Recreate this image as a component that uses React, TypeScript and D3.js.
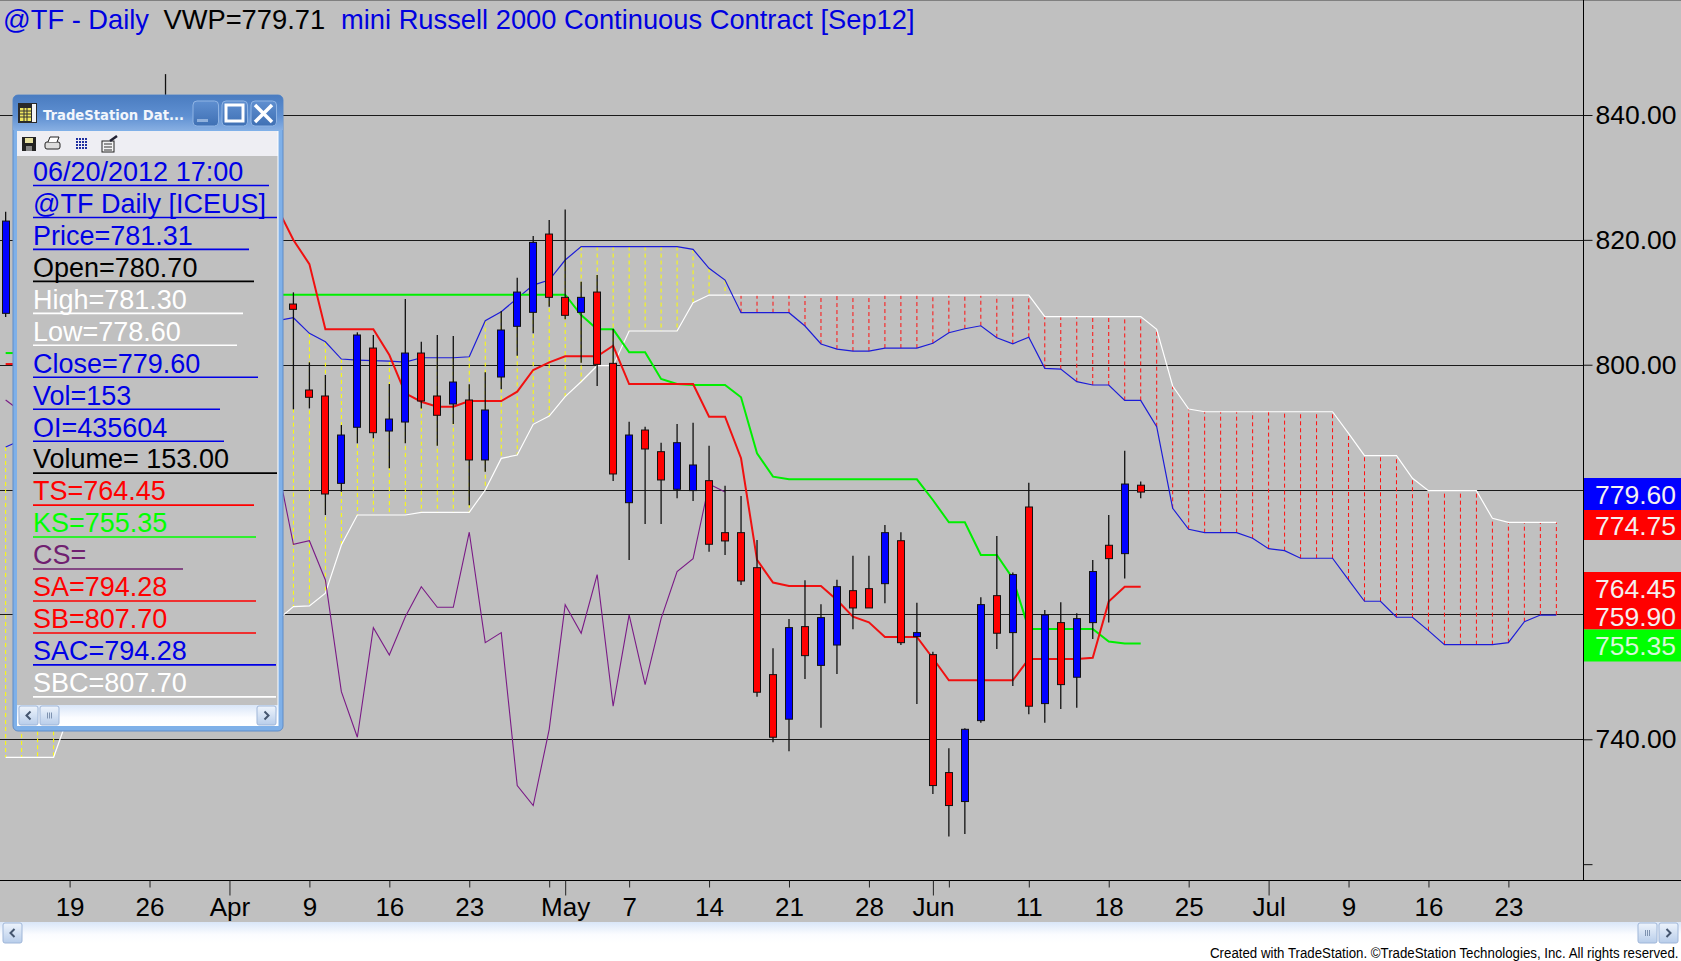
import { axisBottom, axisRight, line, scaleLinear, select } from 'd3'
import { useEffect, useRef } from 'react'

const WIDTH = 1681
const HEIGHT = 961
const FONT = '"Liberation Sans", Arial, sans-serif'

// every weekday counts as one slot on the time axis, slot 0 is Mar 13 2012
const barDays = [0, 10, ...Array.from({ length: 54 }, (_, i) => i + 18)]
const opens = [808.23, 830, 809.72, 795.95, 794.99, 781.0, 789.98, 802.67, 789.38, 790.82, 801.87, 794.99, 793.71, 794.35, 784.74, 798.03, 806.15, 808.39, 820.93, 810.79, 808.39, 811.64, 800.22, 777.9, 789.54, 786.07, 780.05, 779.84, 781.43, 773.1, 773.1, 767.49, 750.36, 743.22, 758.05, 751.84, 755.1, 763.81, 764.13, 764.93, 771.81, 756.45, 753.56, 734.67, 730.03, 742.99, 763.01, 757.09, 777.21, 745.72, 758.69, 749.94, 758.69, 771.08, 769.74, 780.7]
const highs = [824.5, 846.55, 811.59, 800.38, 798.35, 790.34, 805.19, 804.76, 796.91, 810.52, 803.68, 804.76, 804.6, 796.86, 798.78, 808.6, 813.93, 820.61, 823.17, 824.88, 813.29, 814.36, 805.72, 790.87, 790.07, 787.51, 790.5, 790.71, 787.03, 780.62, 778.97, 771.93, 754.59, 759.28, 765.47, 761.63, 765.57, 769.42, 769.42, 774.33, 773.17, 761.89, 754.04, 738.56, 741.76, 762.75, 772.57, 766.7, 781.1, 760.72, 761.95, 760.2, 768.73, 775.93, 786.23, 781.3]
const lows = [807.64, 825, 792.85, 793.0, 775.93, 779.66, 787.41, 788.21, 783.41, 787.41, 793.0, 787.03, 790.5, 777.49, 782.87, 796.06, 801.44, 805.03, 809.29, 807.27, 800.32, 796.59, 781.38, 768.73, 774.49, 774.49, 778.6, 778.17, 770.05, 769.53, 764.72, 746.83, 739.53, 738.1, 749.67, 741.87, 750.47, 757.63, 761.04, 761.79, 755.1, 745.67, 731.25, 724.42, 724.85, 742.67, 754.46, 748.55, 744.02, 742.67, 744.86, 745.07, 756.08, 758.69, 765.75, 778.6]
const closes = [823.01, 836, 808.87, 794.78, 779.29, 788.74, 804.76, 789.11, 791.3, 801.87, 794.19, 791.9, 797.23, 784.74, 792.75, 805.56, 811.64, 819.6, 810.79, 807.91, 810.79, 800.06, 782.5, 788.74, 786.5, 781.54, 787.51, 783.94, 771.24, 771.77, 765.36, 747.54, 740.33, 757.89, 753.4, 759.49, 764.45, 761.04, 761.04, 773.1, 755.48, 757.09, 732.59, 729.39, 741.6, 761.57, 756.99, 766.38, 745.3, 759.92, 748.76, 759.33, 766.87, 768.94, 780.89, 779.6]

// indicator values that show left of the data window, slots 0..
const tenkanLeft = [800.11, 800.11]
const kijunLeft = [801.87, 801.87]
const chikouLeft = [794.35, 792.43]
const spanALeft = [786.82, 787.94, 789.5, 789.5, 789.5]
const spanBLeft = [737.12, 737.12, 737.12, 737.12, 744.33]

// the same indicators right of the window, slots 17..
const FIRST_RIGHT = 17
const tenkan = [825.09, 819.97, 816.12, 805.67, 805.67, 805.67, 805.67, 801.55, 795.42, 794.07, 793.27, 793.27, 794.19, 794.19, 794.19, 795.68, 799.15, 800.38, 801.35, 801.35, 801.35, 803.04, 796.91, 796.91, 796.91, 796.91, 796.91, 791.67, 791.67, 785.02, 768.73, 765.1, 764.56, 764.56, 764.56, 762.32, 759.64, 758.74, 756.39, 756.39, 756.39, 752.98, 749.46, 749.46, 749.46, 749.46, 749.46, 752.87, 752.87, 752.87, 752.87, 753.07, 762.05, 764.45, 764.45]
const kijun = [811.21, 811.21, 811.21, 811.21, 811.21, 811.21, 811.21, 811.21, 811.21, 811.21, 811.21, 811.21, 811.21, 811.21, 811.21, 811.21, 811.21, 811.21, 811.21, 807.96, 805.67, 805.67, 801.99, 801.99, 797.71, 796.91, 796.75, 796.75, 796.75, 794.78, 785.81, 782.07, 781.65, 781.65, 781.65, 781.65, 781.65, 781.65, 781.65, 781.65, 781.65, 778.33, 774.76, 774.76, 769.53, 769.53, 765.75, 757.68, 757.68, 757.68, 757.68, 757.68, 755.65, 755.35, 755.35]
const chikou = [783.94, 771.24, 771.81, 765.52, 747.63, 740.33, 757.89, 753.51, 759.64, 764.45, 761.15, 761.15, 773.17, 755.48, 757.09, 732.59, 729.39, 741.6, 761.57, 756.99, 766.38, 745.3, 759.92, 748.76, 759.33, 766.87, 768.94, 780.89, 779.6]
const spanA = [807.05, 807.53, 805.03, 803.68, 800.91, 800.75, 800.64, 800.59, 800.43, 801.12, 801.12, 801.12, 801.28, 807.05, 808.49, 810.63, 812.76, 813.56, 816.77, 818.93, 818.93, 818.93, 818.93, 818.93, 818.93, 818.93, 818.48, 815.44, 813.56, 808.33, 808.33, 808.33, 808.33, 806.2, 803.32, 802.51, 802.19, 802.19, 802.67, 802.67, 802.67, 803.43, 805.13, 805.76, 806.24, 804.32, 803.36, 804.39, 799.42, 799.31, 797.28, 796.75, 796.75, 794.28, 794.28, 790.07, 777.0, 773.64, 773.1, 773.1, 773.1, 772.2, 770.54, 770.22, 769.0, 769.0, 769.0, 765.52, 762.11, 762.11, 759.55, 759.55, 757.41, 755.16, 755.16, 755.16, 755.16, 755.48, 758.84, 759.9, 759.9]
const spanB = [759.12, 761.25, 761.36, 763.4, 771.13, 775.93, 775.93, 775.93, 775.93, 776.36, 776.36, 776.36, 776.36, 779.93, 785.0, 785.54, 790.45, 791.78, 794.88, 797.28, 799.84, 799.84, 805.4, 805.4, 805.4, 805.4, 809.93, 811.16, 811.16, 811.16, 811.16, 811.16, 811.16, 811.16, 811.16, 811.16, 811.16, 811.16, 811.16, 811.16, 811.16, 811.16, 811.16, 811.16, 811.16, 811.16, 811.16, 811.16, 807.7, 807.7, 807.7, 807.7, 807.7, 807.7, 807.7, 805.67, 796.59, 792.9, 792.47, 792.47, 792.47, 792.47, 792.47, 792.47, 792.47, 792.47, 792.47, 789.0, 785.43, 785.43, 785.43, 781.81, 779.82, 779.82, 779.82, 779.82, 775.4, 774.75, 774.75, 774.75, 774.75]

const priceTicks = [840, 820, 800, 780, 760, 740, 720]
const labeledPrices = [840, 820, 800, 740] // 780 and 760 sit under the last value boxes
const gridPrices = [840, 820, 800, 780, 760, 740]
const lastLabels = ['779.60', '774.75', '764.45', '759.90', '755.35']

const dayTicks = [4, 9, 14, 19, 24, 29, 34, 35, 39, 44, 49, 54, 58, 59, 64, 69, 74, 79, 84, 89, 94]
const dayLabels = ['19', '26', 'Apr', '9', '16', '23', '', 'May', '7', '14', '21', '28', 'Jun', '', '11', '18', '25', 'Jul', '9', '16', '23']
const monthDays = [14, 35, 58, 79]

const rowLabels = ['06/20/2012 17:00', '@TF Daily [ICEUS]', 'Price=781.31', 'Open=780.70', 'High=781.30', 'Low=778.60', 'Close=779.60', 'Vol=153', 'OI=435604', 'Volume= 153.00', 'TS=764.45', 'KS=755.35', 'CS=', 'SA=794.28', 'SB=807.70', 'SAC=794.28', 'SBC=807.70']
const rowColors = ['#0000e6', '#0000e6', '#0000e6', '#000', '#fff', '#fff', '#0000e6', '#0000e6', '#0000e6', '#000', '#f00', '#0f0', '#702070', '#f00', '#f00', '#0000e6', '#fff']
const rowEnds = [269, 277, 249, 254, 243, 237, 258, 220, 224, 277, 254, 256, 183, 256, 256, 276, 276]

const series = (first: number, values: number[]) => values.map((v, i) => ({ day: first + i, v }))

export default function App() {
    const svgRef = useRef(null)

    useEffect(() => {
        const svg = select(svgRef.current)
        svg.selectAll('*').remove()

        const x = scaleLinear().domain([0, 94]).range([5.65, 1508.4])
        const y = scaleLinear().domain([740, 840]).range([739.3, 115])
        const path = line<any>().x(d => x(d.day)).y(d => y(d.v))

        const defs = svg.append('defs')
        const grad = (id, stops) => {
            const g = defs.append('linearGradient').attr('id', id).attr('x1', 0).attr('x2', 0).attr('y1', 0).attr('y2', 1)
            stops.forEach(([o, c]) => g.append('stop').attr('offset', o).attr('stop-color', c))
        }
        grad('titleBar', [[0, '#4a7cc0'], [0.6, '#5f90d2'], [1, '#86aee2']])
        grad('btn', [[0, '#5f8fd0'], [1, '#3f70b4']])
        grad('scroll', [[0, '#d9e6f8'], [0.6, '#fbfcff'], [1, '#fff']])
        grad('scrollBtn', [[0, '#eef4fc'], [1, '#b8cdea']])

        svg.append('rect').attr('width', WIDTH).attr('height', HEIGHT).attr('fill', '#fff')
        svg.append('rect').attr('width', WIDTH).attr('height', 922).attr('fill', '#c0c0c0')
        svg.append('line').attr('x1', 0).attr('x2', WIDTH).attr('y1', 0.5).attr('y2', 0.5).attr('stroke', '#808080')

        // grid
        svg.append('g').selectAll('line').data(gridPrices).join('line')
            .attr('x1', 0).attr('x2', 1583)
            .attr('y1', d => Math.round(y(d)) + 0.5).attr('y2', d => Math.round(y(d)) + 0.5)
            .attr('stroke', '#1a1a1a').attr('stroke-width', 1)

        // cloud hatching, yellow while span A is on top, red otherwise
        const cloud = [
            ...spanALeft.map((a, i) => ({ day: i, a, b: spanBLeft[i] })),
            ...spanA.map((a, i) => ({ day: FIRST_RIGHT + i, a, b: spanB[i] }))
        ]
        svg.append('g').selectAll('line').data(cloud).join('line')
            .attr('x1', d => x(d.day)).attr('x2', d => x(d.day))
            .attr('y1', d => y(d.a)).attr('y2', d => y(d.b))
            .attr('stroke', d => d.a > d.b ? '#ffff00' : '#ff1010')
            .attr('stroke-width', 1)
            .attr('stroke-dasharray', '4 3')

        const drawLine = (left, right, color, w) => {
            [series(0, left), series(FIRST_RIGHT, right)].forEach(s => {
                svg.append('path').attr('d', path(s)).attr('fill', 'none').attr('stroke', color).attr('stroke-width', w)
            })
        }
        drawLine(spanBLeft, spanB, '#ffffff', 1.2)
        drawLine(spanALeft, spanA, '#1c1cd8', 1.2)
        drawLine(chikouLeft, chikou, '#7a1a86', 1.1)
        drawLine(kijunLeft, kijun, '#00ee00', 2)
        drawLine(tenkanLeft, tenkan, '#f01010', 2)

        // candles
        const bars = barDays.map((day, i) => ({ day, o: opens[i], h: highs[i], l: lows[i], c: closes[i] }))
        const candle = svg.append('g').selectAll('g').data(bars).join('g')
        candle.append('line')
            .attr('x1', d => x(d.day)).attr('x2', d => x(d.day))
            .attr('y1', d => y(d.h)).attr('y2', d => y(d.l))
            .attr('stroke', '#111').attr('stroke-width', 1.3)
        candle.append('rect')
            .attr('x', d => Math.round(x(d.day)) - 3.5).attr('width', 7)
            .attr('y', d => y(Math.max(d.o, d.c)))
            .attr('height', d => Math.abs(y(d.o) - y(d.c)))
            .attr('fill', d => d.c > d.o ? '#0000ff' : '#ff0000')
            .attr('stroke', '#111').attr('stroke-width', 1)

        // price axis
        const yAxis = svg.append('g').attr('transform', 'translate(1583.5,0)')
            .call(axisRight(y).tickValues(priceTicks).tickSize(9).tickPadding(3).tickFormat(d => labeledPrices.includes(+d) ? (+d).toFixed(2) : ''))
        yAxis.select('.domain').attr('d', 'M0,0V881').attr('stroke', '#000')
        yAxis.selectAll('.tick line').attr('stroke', '#111')
        yAxis.selectAll('text').attr('font-family', FONT).attr('font-size', 26.5).attr('fill', '#000')

        // time axis
        const xAxis = svg.append('g').attr('transform', 'translate(0,880.5)')
            .call(axisBottom(x).tickValues(dayTicks).tickSize(7).tickPadding(0).tickFormat((_, i) => dayLabels[i]))
        xAxis.select('.domain').attr('d', `M0,0H${WIDTH}`).attr('stroke', '#000')
        xAxis.selectAll('.tick line').attr('stroke', '#222').attr('y2', d => monthDays.includes(+d) ? 15 : 7)
        xAxis.selectAll('text').attr('font-family', FONT).attr('font-size', 26).attr('fill', '#000').attr('y', 35.5).attr('dy', 0)

        // last value boxes on the price axis
        const boxes = svg.append('g')
        const boxRows = [[478, 32, '#0000ff'], [510, 30, '#ff0000'], [572, 57.5, '#ff0000'], [629.5, 32, '#00ff00']]
        boxRows.forEach(([top, h, fill]) => {
            boxes.append('rect').attr('x', 1584).attr('width', 97).attr('y', top).attr('height', h).attr('fill', fill)
        })
        const boxBase = [503.5, 534.5, 598, 626, 654.5]
        lastLabels.forEach((t, i) => {
            boxes.append('text').attr('x', 1595).attr('y', boxBase[i]).attr('font-family', FONT).attr('font-size', 26.5)
                .attr('fill', i === 4 ? '#d8f8d8' : '#f4f0f0').text(t)
        })

        // header
        const title = (txt, xPos, color) => svg.append('text').attr('x', xPos).attr('y', 29)
            .attr('font-family', FONT).attr('font-size', 27.3).attr('fill', color).text(txt)
        title('@TF - Daily', 3, '#0000e0')
        title('VWP=779.71', 163.5, '#000')
        title('mini Russell 2000 Continuous Contract [Sep12]', 341, '#0000e0')

        // bottom scroll bar and footer
        const scrollBtn = (g, bx, by, w, h, dir) => {
            g.append('rect').attr('x', bx).attr('y', by).attr('width', w).attr('height', h).attr('rx', 2)
                .attr('fill', 'url(#scrollBtn)').attr('stroke', '#9fb6d8')
            const mx = bx + w / 2
            const my = by + h / 2
            if (dir !== 0) {
                g.append('path').attr('d', `M${mx + dir * -2},${my - 4}L${mx + dir * 2},${my}L${mx + dir * -2},${my + 4}`)
                    .attr('fill', 'none').attr('stroke', '#44556e').attr('stroke-width', 2)
            } else {
                [-2, 0, 2].forEach(o => g.append('line').attr('x1', mx + o).attr('x2', mx + o).attr('y1', my - 3).attr('y2', my + 3).attr('stroke', '#7f93b0'))
            }
        }
        const bottom = svg.append('g')
        bottom.append('rect').attr('y', 922).attr('width', WIDTH).attr('height', 21).attr('fill', 'url(#scroll)')
        scrollBtn(bottom, 3, 923, 19, 20, -1)
        scrollBtn(bottom, 1638, 923, 19, 20, 0)
        scrollBtn(bottom, 1659, 923, 19, 20, 1)
        bottom.append('text').attr('transform', 'translate(1210,958) scale(0.885,1)')
            .attr('font-family', FONT).attr('font-size', 15).attr('fill', '#000')
            .text('Created with TradeStation. ©TradeStation Technologies, Inc. All rights reserved.')

        // data window
        const win = svg.append('g')
        win.append('rect').attr('x', 13).attr('y', 95).attr('width', 270).attr('height', 636).attr('rx', 5)
            .attr('fill', '#7fb0e8').attr('stroke', '#5f8cc8')
        win.append('path').attr('d', 'M13,130V100a5,5 0 0 1 5,-5H278a5,5 0 0 1 5,5V130Z').attr('fill', 'url(#titleBar)')
        win.append('rect').attr('x', 17).attr('y', 131).attr('width', 261).attr('height', 25).attr('fill', '#eeeef3')
        win.append('rect').attr('x', 17).attr('y', 156).attr('width', 261).attr('height', 549).attr('fill', '#c0c0c0')
        win.append('rect').attr('x', 17).attr('y', 705).attr('width', 261).attr('height', 21).attr('fill', 'url(#scroll)')
        win.append('line').attr('x1', 278).attr('x2', 278).attr('y1', 131).attr('y2', 726).attr('stroke', '#fff')
        scrollBtn(win, 19, 706, 19, 19, -1)
        scrollBtn(win, 40, 706, 19, 19, 0)
        scrollBtn(win, 257, 706, 19, 19, 1)

        win.append('text').attr('x', 43).attr('y', 120).attr('font-family', '"DejaVu Sans", sans-serif').attr('font-size', 14)
            .attr('font-weight', 'bold').attr('fill', '#f2f6fc').attr('textLength', 141).attr('lengthAdjust', 'spacingAndGlyphs')
            .text('TradeStation Dat...')

        // window icon
        win.append('rect').attr('x', 18).attr('y', 103).attr('width', 19).attr('height', 20).attr('fill', '#2a2a2a')
        win.append('rect').attr('x', 20).attr('y', 108).attr('width', 11).attr('height', 13).attr('fill', '#f0e860')
        win.append('rect').attr('x', 32).attr('y', 104).attr('width', 4).attr('height', 18).attr('fill', '#f4f4f4')
        ;[111, 114, 117].forEach(l => win.append('line').attr('x1', 20).attr('x2', 31).attr('y1', l).attr('y2', l).attr('stroke', '#333'))
        ;[24, 27].forEach(l => win.append('line').attr('x1', l).attr('x2', l).attr('y1', 108).attr('y2', 121).attr('stroke', '#333'))

        // caption buttons
        ;[193, 222, 251].forEach(bx => {
            win.append('rect').attr('x', bx).attr('y', 101).attr('width', 25.5).attr('height', 25).attr('rx', 4)
                .attr('fill', 'url(#btn)').attr('stroke', '#8fb4e4')
        })
        win.append('rect').attr('x', 197).attr('y', 119).attr('width', 11).attr('height', 3).attr('fill', '#8fb0dc')
        win.append('rect').attr('x', 226).attr('y', 105).attr('width', 17).attr('height', 16).attr('fill', 'none').attr('stroke', '#fff').attr('stroke-width', 3)
        win.append('path').attr('d', 'M255,105L272,122M272,105L255,122').attr('stroke', '#fff').attr('stroke-width', 3.5)

        // toolbar icons
        win.append('rect').attr('x', 22).attr('y', 137).attr('width', 14).attr('height', 14).attr('fill', '#222')
        win.append('rect').attr('x', 25).attr('y', 138).attr('width', 8).attr('height', 5).attr('fill', '#e6e0a0')
        win.append('rect').attr('x', 26).attr('y', 146).attr('width', 6).attr('height', 5).attr('fill', '#888')
        win.append('rect').attr('x', 45).attr('y', 142).attr('width', 15).attr('height', 7).attr('rx', 2).attr('fill', '#ddd').attr('stroke', '#222')
        win.append('path').attr('d', 'M48,142L50,137H59L57,142').attr('fill', '#fff').attr('stroke', '#222')
        ;[76, 79, 82, 85].forEach(gx => [138, 141, 144, 147].forEach(gy => {
            win.append('rect').attr('x', gx).attr('y', gy).attr('width', 2).attr('height', 2).attr('fill', '#2030a0')
        }))
        win.append('rect').attr('x', 102).attr('y', 141).attr('width', 12).attr('height', 11).attr('fill', '#f4f4f4').attr('stroke', '#222')
        win.append('path').attr('d', 'M104,144H112M104,147H112M104,150H112').attr('stroke', '#333')
        win.append('path').attr('d', 'M110,141L117,136').attr('stroke', '#223').attr('stroke-width', 2.5)

        // rows
        const rows = win.append('g').selectAll('g').data(rowLabels).join('g')
        rows.append('text').attr('x', 33).attr('y', (_, i) => 181 + i * 31.94)
            .attr('font-family', FONT).attr('font-size', 27).attr('fill', (_, i) => rowColors[i]).text(d => d)
        rows.append('line').attr('x1', 33).attr('x2', (_, i) => rowEnds[i])
            .attr('y1', (_, i) => 185.5 + i * 31.96).attr('y2', (_, i) => 185.5 + i * 31.96)
            .attr('stroke', (_, i) => rowColors[i]).attr('stroke-width', 1.6)
    }, [])

    return (
        <svg ref={svgRef} width={WIDTH} height={HEIGHT} style={{ position: 'absolute', left: 0, top: 0, display: 'block' }} />
    )
}
